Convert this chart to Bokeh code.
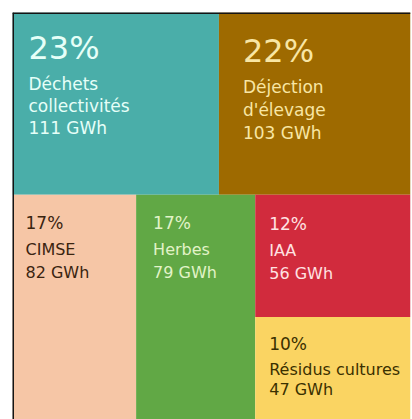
from bokeh.plotting import figure
from bokeh.models import ColumnDataSource, Range1d, Span
from bokeh.core.properties import value
from bokeh.embed import file_html
from bokeh.resources import INLINE

# ---- data ----
labels = ["Déchets\ncollectivités", "Déjection\nd'élevage", "CIMSE", "Herbes", "IAA", "Résidus cultures"]
gwh = [111, 103, 82, 79, 56, 47]
unit = "GWh"

# ---- styles ----
fill_colors = ["#4AAEA9", "#9E6A00", "#F6C6A6", "#61A845", "#D12B3D", "#FAD462"]
text_colors = ["#E6FFF8", "#F8E6A4", "#3A2410", "#E2F3C8", "#FFE2E2", "#3A3000"]
pct_sizes = [32, 32, 17, 17, 17, 17]
lbl_sizes = [17, 17, 16, 16, 16, 16]
pad_x = [16, 24, 13, 17, 14, 14]
pct_base = [35, 38, 28, 28, 29, 27]
lbl_base = [71, 74, 55, 55, 56, 53]
lbl_step = [22, 23, 23, 23, 23, 20]

total = sum(gwh)

# ---- treemap layout (unit square, y up) ----
# top row: tiles 0,1 ; bottom row: tiles 2,3 and a column of 4,5
top_sum = gwh[0] + gwh[1]
top_h = top_sum / total
rects = []  # (left, right, bottom, top)
x = 0.0
for i in (0, 1):
    w = gwh[i] / top_sum
    rects.append((x, x + w, 1 - top_h, 1.0))
    x += w
bot_sum = total - top_sum
bot_top = 1 - top_h
x = 0.0
for i in (2, 3):
    w = gwh[i] / bot_sum
    rects.append((x, x + w, 0.0, bot_top))
    x += w
col_sum = gwh[4] + gwh[5]
split = bot_top - bot_top * gwh[4] / col_sum
rects.append((x, 1.0, split, bot_top))
rects.append((x, 1.0, 0.0, split))

rect_src = ColumnDataSource(dict(
    left=[r[0] for r in rects], right=[r[1] for r in rects],
    bottom=[r[2] for r in rects], top=[r[3] for r in rects],
    color=fill_colors,
))

# text items
tx, ty, tt, tox, toy, tsz, tcol = [], [], [], [], [], [], []
for i, (lab, v) in enumerate(zip(labels, gwh)):
    left, right, bottom, top = rects[i]
    pct = round(v / total * 100)
    tx.append(left); ty.append(top); tt.append(f"{pct}%")
    tox.append(pad_x[i]); toy.append(pct_base[i]); tsz.append(f"{pct_sizes[i]}px"); tcol.append(text_colors[i])
    lines = lab.split("\n") + [f"{v} {unit}"]
    for k, line in enumerate(lines):
        tx.append(left); ty.append(top); tt.append(line)
        tox.append(pad_x[i]); toy.append(lbl_base[i] + k * lbl_step[i])
        tsz.append(f"{lbl_sizes[i]}px"); tcol.append(text_colors[i])

text_src = ColumnDataSource(dict(x=tx, y=ty, text=tt, xo=tox, yo=toy, size=tsz, color=tcol))

p = figure(width=412, height=419, output_backend="svg", toolbar_location=None,
           x_range=Range1d(0, 1), y_range=Range1d(0, 1),
           x_axis_type=None, y_axis_type=None,
           min_border_left=12, min_border_top=12, min_border_right=2, min_border_bottom=0)
p.grid.visible = False
p.outline_line_color = None
p.background_fill_color = "white"
p.border_fill_color = "white"

p.quad(left="left", right="right", bottom="bottom", top="top", fill_color="color",
       line_color=None, source=rect_src)

p.text(x="x", y="y", text="text", x_offset="xo", y_offset="yo",
       text_font_size="size", text_color="color", text_baseline="alphabetic",
       text_align="left", text_font=value("DejaVu Sans"), source=text_src)

p.add_layout(Span(location=0, dimension="height", line_color="#141414", line_width=3))
p.add_layout(Span(location=1, dimension="width", line_color="#141414", line_width=3))

open("out.html", "w").write(file_html(p, INLINE))
